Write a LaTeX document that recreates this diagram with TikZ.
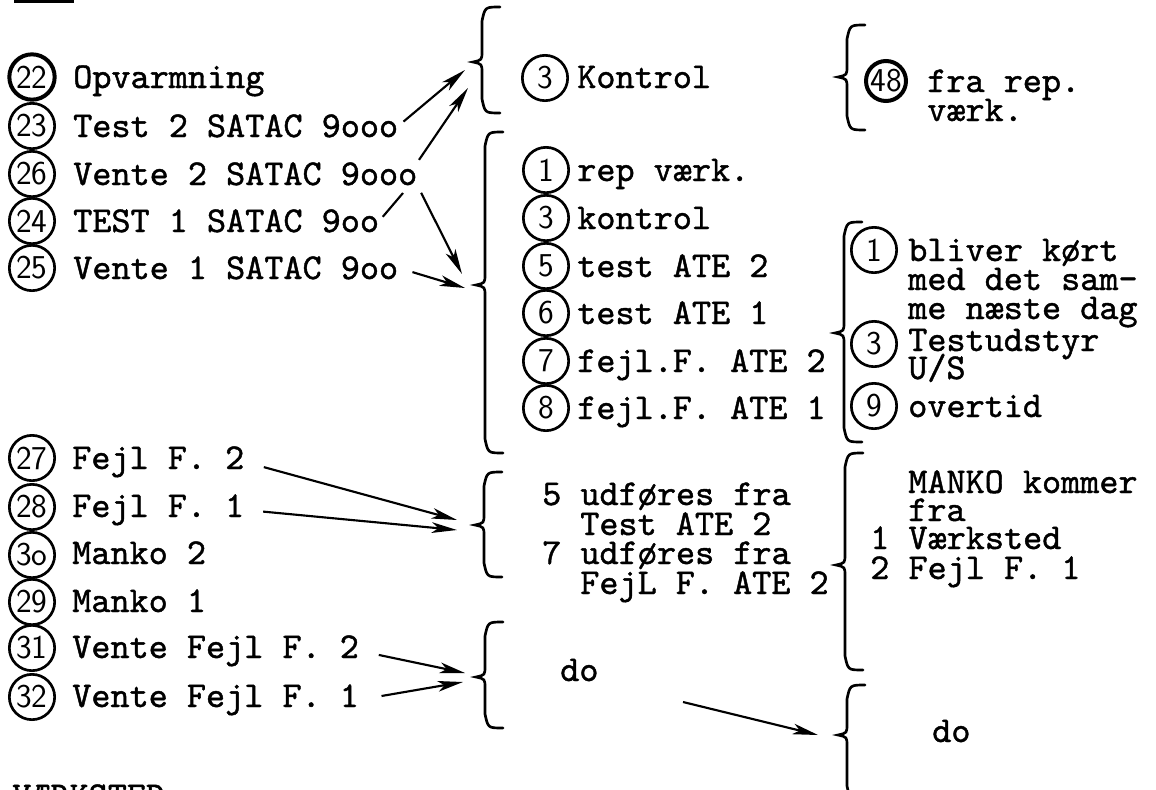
\documentclass[tikz,border=0pt]{standalone}
\usepackage{fontspec}
\newfontfamily\tw{lmmono10-regular.otf}[FakeBold=1.2]
\usetikzlibrary{arrows.meta}
\tikzset{
  tekst/.style={anchor=base west, inner sep=0pt, font=\tw\fontsize{27.3pt}{23pt}\selectfont},
  nr/.style={circle, draw, line width=2pt, minimum size=34pt, inner sep=0pt, font=\sffamily\fontsize{25pt}{25pt}\selectfont},
  pil/.style={line width=1.6pt, -{Stealth[length=19pt,width=8pt,inset=5pt]}},
  klam/.style={line width=2pt, line cap=round},
}
% venstre klamme: x for enderne, top, midte, bund
\newcommand{\klamme}[4]{%
  \draw[klam] (#1,#2) .. controls (#1-15,#2) .. (#1-18,#2+14) -- (#1-18,#3-11)
    .. controls (#1-18,#3-2) .. (#1-27,#3) .. controls (#1-18,#3+2) .. (#1-18,#3+11)
    -- (#1-18,#4-14) .. controls (#1-15,#4) .. (#1,#4);}
\begin{document}
\begin{tikzpicture}[x=0.75pt, y=-0.75pt]
  \path[use as bounding box] (0,0) rectangle (1156,789);
  \clip (0,0) rectangle (1156,789);
  \fill[white] (0,0) rectangle (1156,789);

  % rest af overskriften
  \draw[line width=3pt] (14,1) -- (74,1);

  % venstre kolonne, oeverst
  \node[nr, line width=3pt] (n22) at (32,77) {22};
  \node[tekst] (t22) at (73,88) {Opvarmning};
  \node[nr] (n23) at (32,126) {23};
  \node[tekst] (t23) at (73,137) {Test 2 SATAC 9ooo};
  \node[nr] (n26) at (32,174) {26};
  \node[tekst] (t26) at (73,185) {Vente 2 SATAC 9ooo};
  \node[nr] (n24) at (32,221) {24};
  \node[tekst] (t24) at (73,232) {TEST 1 SATAC 9oo};
  \node[nr] (n25) at (32,268) {25};
  \node[tekst] (t25) at (73,279) {Vente 1 SATAC 9oo};

  % venstre kolonne, nederst
  \node[nr] (n27) at (32,458) {27};
  \node[tekst] (t27) at (72,469) {Fejl F. 2};
  \node[nr] (n28) at (32,507) {28};
  \node[tekst] (t28) at (72,517) {Fejl F. 1};
  \node[nr] (n30) at (32,555) {3o};
  \node[tekst] (t30) at (72,564) {Manko 2};
  \node[nr] (n29) at (32,602) {29};
  \node[tekst] (t29) at (72,612) {Manko 1};
  \node[nr] (n31) at (32,648) {31};
  \node[tekst] (t31) at (72,658) {Vente Fejl F. 2};
  \node[nr] (n32) at (32,697) {32};
  \node[tekst] (t32) at (72,707) {Vente Fejl F. 1};
  \node[tekst] (vaerk) at (12,807) {VÆRKSTED};

  % klammer
  \klamme{500}{7}{62}{113}
  \klamme{503}{132}{285}{453}
  \klamme{502}{472}{525}{577}
  \klamme{503}{622}{677}{728}
  \klamme{865}{25}{77}{130}
  \klamme{862}{222}{333}{442}
  \klamme{863}{453}{565}{670}
  \klamme{865}{685}{735}{800}

  % midterste kolonne
  \node[nr] (k3) at (545,78) {3};
  \node[tekst] (tk3) at (577,88) {Kontrol};
  \node[nr] (m1) at (546,170) {1};
  \node[tekst] (tm1) at (577,181) {rep værk.};
  \node[nr] (m3) at (546,218) {3};
  \node[tekst] (tm3) at (577,229) {kontrol};
  \node[nr] (m5) at (546,266) {5};
  \node[tekst] (tm5) at (577,277) {test ATE 2};
  \node[nr] (m6) at (546,313) {6};
  \node[tekst] (tm6) at (577,324) {test ATE 1};
  \node[nr] (m7) at (546,361) {7};
  \node[tekst] (tm7) at (577,372) {fejl.F. ATE 2};
  \node[nr] (m8) at (546,408) {8};
  \node[tekst] (tm8) at (577,419) {fejl.F. ATE 1};

  \node[tekst] (u5) at (542,505) {5 udføres fra};
  \node[tekst] (u5b) at (580,535) {Test ATE 2};
  \node[tekst] (u7) at (542,564) {7 udføres fra};
  \node[tekst] (u7b) at (580,594) {FejL F. ATE 2};
  \node[tekst] (do1) at (560,681) {do};

  % hoejre kolonne
  \node[nr, line width=3pt, minimum size=30pt] (n48) at (886,81) {48};
  \node[tekst] (f1) at (927,92) {fra rep.};
  \node[tekst] (f2) at (927,121) {værk.};

  \node[nr] (r1) at (874,250) {1};
  \node[tekst] (b1) at (908,261) {bliver kørt};
  \node[tekst] (b2) at (908,290) {med det sam-};
  \node[tekst] (b3) at (908,319) {me næste dag};
  \node[nr] (r3) at (874,344) {3};
  \node[tekst] (b4) at (908,351) {Testudstyr};
  \node[tekst] (b5) at (908,379) {U/S};
  \node[nr] (r9) at (874,406) {9};
  \node[tekst] (b6) at (908,417) {overtid};

  \node[tekst] (mk1) at (908,493) {MANKO kommer};
  \node[tekst] (mk2) at (908,521) {fra};
  \node[tekst] (mk3) at (870,549) {1 Værksted};
  \node[tekst] (mk4) at (870,579) {2 Fejl F. 1};
  \node[tekst] (do2) at (932,742) {do};

  % pile ind mod klammerne
  \coordinate (k1a) at (465,70);
  \coordinate (k1b) at (468,88);
  \coordinate (j24) at (403,193);
  \coordinate (k2a) at (462,274);
  \coordinate (k2b) at (465,288);
  \coordinate (k5a) at (457,520);
  \coordinate (k5b) at (457,530);
  \coordinate (k6a) at (465,673);
  \coordinate (k6b) at (463,682);
  \coordinate (d1) at (683,702);
  \coordinate (k8) at (818,735);

  \draw[pil, shorten <=5pt] (t23.east) -- (k1a);
  \draw[pil, shorten <=2pt] (t26.north east) -- (k1b);
  \draw[line width=1.6pt, shorten <=4pt] (t24.east) -- (j24);
  \draw[pil, shorten <=6pt] (t26.south east) -- (k2a);
  \draw[pil, shorten <=11pt] (t25.east) -- (k2b);
  \draw[pil, shorten <=15pt] (t27.east) -- (k5a);
  \draw[pil, shorten <=14pt] (t28.east) -- (k5b);
  \draw[pil, shorten <=15pt] (t31.east) -- (k6a);
  \draw[pil, shorten <=17pt] (t32.east) -- (k6b);
  \draw[pil] (d1) -- (k8);
\end{tikzpicture}
\end{document}
